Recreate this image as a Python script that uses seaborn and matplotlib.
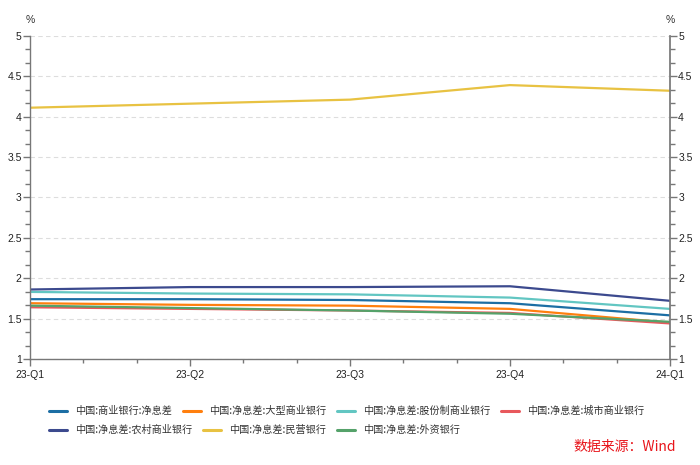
import matplotlib
matplotlib.use("Agg")
import matplotlib.pyplot as plt
from matplotlib.ticker import MultipleLocator
import seaborn as sns
import pandas as pd

quarters = ["23-Q1", "23-Q2", "23-Q3", "23-Q4", "24-Q1"]

series_names = [
    "中国:商业银行:净息差",
    "中国:净息差:大型商业银行",
    "中国:净息差:股份制商业银行",
    "中国:净息差:城市商业银行",
    "中国:净息差:农村商业银行",
    "中国:净息差:民营银行",
    "中国:净息差:外资银行",
]
commercial = [1.74, 1.74, 1.73, 1.69, 1.54]
large = [1.69, 1.67, 1.66, 1.62, 1.45]
joint_stock = [1.83, 1.81, 1.80, 1.76, 1.62]
city = [1.64, 1.62, 1.60, 1.57, 1.44]
rural = [1.86, 1.89, 1.89, 1.90, 1.72]
private = [4.11, 4.16, 4.21, 4.39, 4.32]
foreign = [1.66, 1.63, 1.60, 1.56, 1.46]
colors = ["#1c6ea4", "#ff7f0e", "#62c6c2", "#e8585c", "#3c4a8e", "#e8c242", "#55a26a"]

y_ticks = [1, 1.5, 2, 2.5, 3, 3.5, 4, 4.5, 5]
y_ticklabels = ["1", "1.5", "2", "2.5", "3", "3.5", "4", "4.5", "5"]

values = [commercial, large, joint_stock, city, rural, private, foreign]
rows = []
for name, vals in zip(series_names, values):
    for q, v in zip(quarters, vals):
        rows.append({"季度": q, "系列": name, "值": v})
df = pd.DataFrame(rows)

sns.set_theme(style="white")
plt.rcParams["font.family"] = ["Noto Sans CJK SC", "DejaVu Sans"]

fig = plt.figure(figsize=(7, 4.65), dpi=100)
ax = fig.add_axes([0.043, 0.228, 0.914, 0.695])

sns.lineplot(data=df, x="季度", y="值", hue="系列", hue_order=series_names,
             palette=colors, linewidth=1.6, ax=ax, legend=True, sort=False)
handles, labels = ax.get_legend_handles_labels()
ax.get_legend().remove()

ax.set_xlim(0, len(quarters) - 1)
ax.set_ylim(1, 5)
ax.set_xlabel("")
ax.set_ylabel("")
ax.xaxis.set_minor_locator(MultipleLocator(1 / 3))
ax.yaxis.set_minor_locator(MultipleLocator(1 / 6))
ax.set_yticks(y_ticks)
ax.set_yticklabels(y_ticklabels)
ax.yaxis.grid(True, which="major", linestyle=(0, (4, 3)), color="#dddddd", linewidth=0.8)
ax.xaxis.grid(False)

for side in ["top", "right"]:
    ax.spines[side].set_visible(False)
for side in ["left", "bottom"]:
    ax.spines[side].set_color("#777777")
    ax.spines[side].set_linewidth(1.0)

tick_font = "Liberation Sans"
ax.tick_params(axis="y", which="major", length=5, width=1, color="#777777",
               labelsize=7.5, pad=1, left=True, labelcolor="#222222")
ax.tick_params(axis="y", which="minor", length=3.5, width=1, color="#777777", left=True)
ax.tick_params(axis="x", which="major", length=5, width=1, color="#777777",
               labelsize=7.5, pad=3, bottom=True, labelcolor="#222222")
ax.tick_params(axis="x", which="minor", length=3, width=1, color="#777777", bottom=True)
for lab in ax.get_xticklabels() + ax.get_yticklabels():
    lab.set_fontfamily(tick_font)

ax2 = ax.twinx()
ax2.set_ylim(1, 5)
ax2.yaxis.set_minor_locator(MultipleLocator(1 / 6))
ax2.set_yticks(y_ticks)
ax2.set_yticklabels(y_ticklabels)
for side in ["top", "left", "bottom"]:
    ax2.spines[side].set_visible(False)
ax2.spines["right"].set_color("#777777")
ax2.tick_params(axis="y", which="major", length=5, width=1, color="#777777",
                labelsize=7.5, pad=1, right=True, labelcolor="#222222")
ax2.tick_params(axis="y", which="minor", length=3.5, width=1, color="#777777", right=True)
for lab in ax2.get_yticklabels():
    lab.set_fontfamily(tick_font)
ax2.grid(False)

fig.text(0.043, 0.958, "%", ha="center", va="center", fontsize=7.5, color="#333333",
         family=tick_font)
fig.text(0.957, 0.958, "%", ha="center", va="center", fontsize=7.5, color="#333333",
         family=tick_font)

# legend: two rows laid out like a flowing html legend
leg_kw = dict(frameon=False, fontsize=7.3, handlelength=1.8, handletextpad=0.8,
              columnspacing=1.05, borderaxespad=0, loc="upper left")
for h in handles:
    h.set_linewidth(2.2)
leg1 = fig.legend(handles[:4], labels[:4], ncol=4,
                  bbox_to_anchor=(0.064, 0.1355), **leg_kw)
leg2 = fig.legend(handles[4:], labels[4:], ncol=3,
                  bbox_to_anchor=(0.064, 0.0945), **leg_kw)
for leg in (leg1, leg2):
    for t in leg.get_texts():
        t.set_color("#333333")

fig.text(0.965, 0.038, "数据来源：Wind", ha="right", va="center", fontsize=10, color="#e8151b")

fig.savefig("out.png", dpi=100)
